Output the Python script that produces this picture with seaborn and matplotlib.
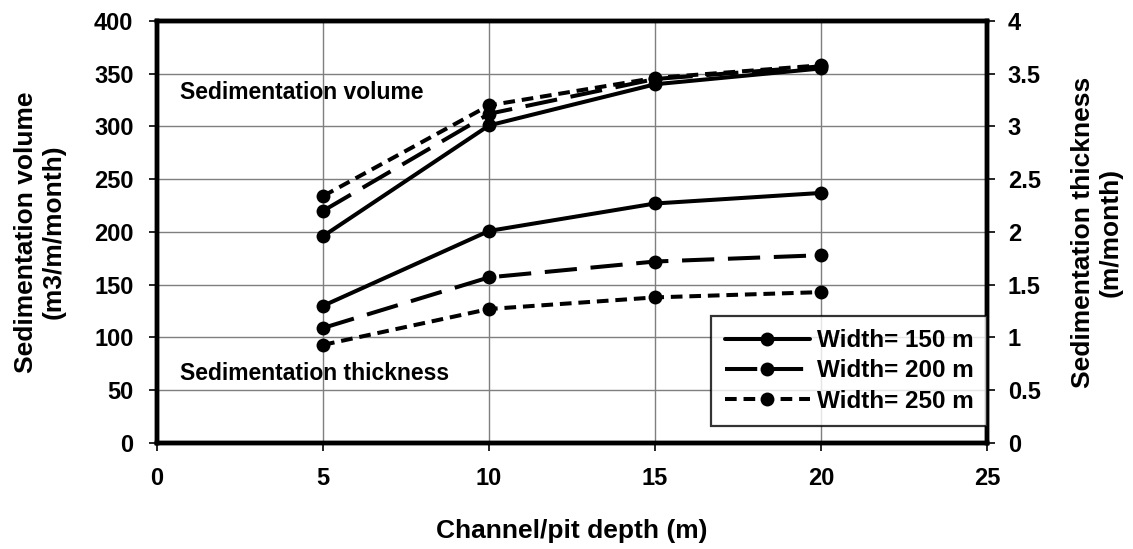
import pandas as pd
import seaborn as sns
import matplotlib.pyplot as plt
from matplotlib.lines import Line2D

depth = [5, 10, 15, 20]
widths = ['Width= 150 m', 'Width= 200 m', 'Width= 250 m']

# left axis: sedimentation volume (m3/m/month)
vol_150 = [196, 301, 340, 355]
vol_200 = [220, 312, 345, 357]
vol_250 = [234, 320, 346, 358]

# right axis: sedimentation thickness (m/month)
thk_150 = [1.30, 2.01, 2.27, 2.37]
thk_200 = [1.09, 1.57, 1.72, 1.78]
thk_250 = [0.93, 1.27, 1.38, 1.43]

dashes = {
    'Width= 150 m': None,
    'Width= 200 m': (8, 3.4),
    'Width= 250 m': (2.9, 1.7),
}

sns.set_style('white')
plt.rcParams['font.family'] = ['Liberation Sans', 'DejaVu Sans']
plt.rcParams['font.weight'] = 'bold'
for k in ['text.color', 'axes.labelcolor', 'xtick.color', 'ytick.color']:
    plt.rcParams[k] = 'black'

LW = 2.9
MS = 10

fig = plt.figure(figsize=(11.33, 5.49), dpi=100)
ax = fig.add_axes([0.1386, 0.1931, 0.7326, 0.7687])
ax2 = ax.twinx()

vol = pd.DataFrame({'depth': depth * 3,
                    'value': vol_150 + vol_200 + vol_250,
                    'width': [w for w in widths for _ in depth]})
thk = pd.DataFrame({'depth': depth * 3,
                    'value': thk_150 + thk_200 + thk_250,
                    'width': [w for w in widths for _ in depth]})

for w in widths:
    sns.lineplot(data=vol[vol['width'] == w], x='depth', y='value', ax=ax,
                 color='black', lw=LW, marker='o', markersize=MS,
                 markeredgewidth=0, legend=False, zorder=3)
    if dashes[w]:
        ax.lines[-1].set_dashes(dashes[w])
    sns.lineplot(data=thk[thk['width'] == w], x='depth', y='value', ax=ax2,
                 color='black', lw=LW, marker='o', markersize=MS,
                 markeredgewidth=0, legend=False, zorder=3)
    if dashes[w]:
        ax2.lines[-1].set_dashes(dashes[w])

ax.set_xlim(0, 25)
ax.set_ylim(0, 400)
ax2.set_ylim(0, 4)
ax.set_xticks([0, 5, 10, 15, 20, 25])
ax.set_yticks(range(0, 401, 50))
ax2.set_yticks([0, 0.5, 1, 1.5, 2, 2.5, 3, 3.5, 4])
ax2.set_yticklabels(['0', '0.5', '1', '1.5', '2', '2.5', '3', '3.5', '4'])

ax.grid(True, color='#7f7f7f', lw=1.0)
ax.set_axisbelow(True)
for a in (ax, ax2):
    for s in a.spines.values():
        s.set_linewidth(3.2)
        s.set_color('black')
    a.tick_params(labelsize=17, direction='out', length=6, width=1.2, pad=9)
ax.tick_params(left=True, bottom=True)
ax.tick_params(axis='y', pad=11)
ax.tick_params(axis='x', pad=11)
ax2.tick_params(right=True)

lab_font = dict(fontsize=19, fontweight='bold')
ax.set_xlabel('Channel/pit depth (m)', **lab_font)
ax.xaxis.label.set_va('center')
ax.xaxis.set_label_coords(0.5, -0.208)

ax.set_ylabel('Sedimentation volume\n(m3/m/month)', multialignment='center', **lab_font)
ax.yaxis.label.set_va('center')
ax.yaxis.set_label_coords(-0.141, 0.5)

ax2.set_ylabel('Sedimentation thickness\n(m/month)', rotation=90,
               multialignment='center', **lab_font)
ax2.yaxis.label.set_va('center')
ax2.yaxis.set_label_coords(1.132, 0.5)

ax.text(0.69, 332, 'Sedimentation volume', fontsize=16.5, fontweight='bold', va='center')
ax.text(0.69, 66, 'Sedimentation thickness', fontsize=16.5, fontweight='bold', va='center')

handles = []
for w in widths:
    h = Line2D([], [], color='black', lw=LW, marker='o', markersize=MS, markeredgewidth=0)
    if dashes[w]:
        h.set_dashes(dashes[w])
    handles.append(h)
leg = ax2.legend(handles, widths, loc='lower right', bbox_to_anchor=(1.0, 0.04),
                 fontsize=17.5, frameon=True, fancybox=False, edgecolor='black',
                 handlelength=3.5, handletextpad=0.3, borderpad=0.55,
                 labelspacing=0.3, borderaxespad=0.0)
leg.get_frame().set_linewidth(1.6)
leg.set_zorder(5)

fig.savefig('out.png', dpi=100)
